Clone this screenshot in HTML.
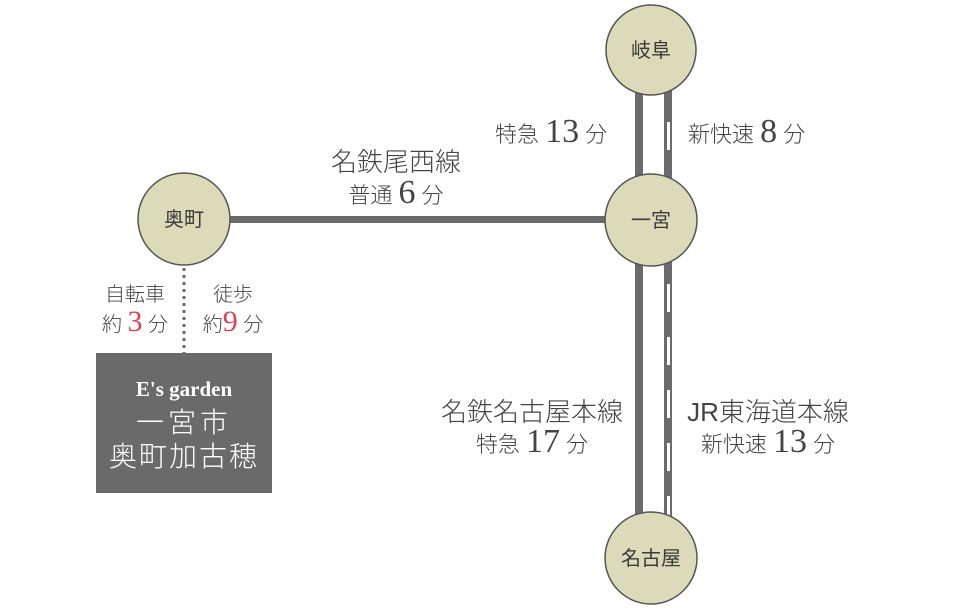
<!DOCTYPE html>
<html><head><meta charset="utf-8"><style>
html,body{margin:0;padding:0;background:#fff;}
svg{display:block}
.j{font-family:"Liberation Sans","Noto Sans CJK JP",sans-serif;fill:#444;font-size:22px;font-weight:300}
.n{font-family:"Liberation Serif","Noto Serif CJK SC",serif;font-size:34px;fill:#444}
.r{fill:#e0404f}
.c{font-family:"Liberation Sans","Noto Sans CJK JP",sans-serif;font-size:20px;fill:#3a3a3a}
.w{fill:#fff}
</style></head><body>
<svg width="954" height="610" viewBox="0 0 954 610" xmlns="http://www.w3.org/2000/svg">
<rect x="635" y="50" width="8" height="510" fill="#6b6b6b"/>
<rect x="664" y="50" width="8" height="510" fill="#6b6b6b"/>
<g fill="#fff">
<rect x="667" y="122" width="3" height="28"/>
<rect x="667" y="284" width="3" height="28"/>
<rect x="667" y="337" width="3" height="28"/>
<rect x="667" y="390" width="3" height="28"/>
<rect x="667" y="443" width="3" height="28"/>
<rect x="667" y="496" width="3" height="28"/>
</g>
<rect x="183" y="216" width="460" height="7" fill="#6b6b6b"/>
<line x1="184" y1="268" x2="184" y2="353" stroke="#6b6b6b" stroke-width="3" stroke-dasharray="3,4"/>
<g fill="#dcdbb9" stroke="#555" stroke-width="1.5">
<circle cx="651" cy="50" r="45"/>
<circle cx="651" cy="220" r="46"/>
<circle cx="651" cy="558" r="46"/>
<circle cx="184" cy="219" r="46"/>
</g>
<text class="c" x="651" y="57" text-anchor="middle">岐阜</text>
<text class="c" x="651" y="227" text-anchor="middle">一宮</text>
<text class="c" x="651" y="565" text-anchor="middle">名古屋</text>
<text class="c" x="184" y="226" text-anchor="middle">奥町</text>
<rect x="96" y="353" width="176" height="140" fill="#6b6a6a"/>
<text x="184" y="396" text-anchor="middle" font-family="Liberation Serif,serif" font-weight="bold" font-size="21" fill="#fff">E's garden</text>
<text x="184" y="432" text-anchor="middle" class="j w" style="font-size:28px;letter-spacing:4px">一宮市</text>
<text x="184" y="466" text-anchor="middle" class="j w" style="font-size:28px;letter-spacing:2px">奥町加古穂</text>
<text x="495" y="142" class="j">特急 <tspan class="n">13</tspan> 分</text>
<text x="688" y="142" class="j">新快速 <tspan class="n">8</tspan> 分</text>
<text x="396" y="171" text-anchor="middle" class="j" style="font-size:26px">名鉄尾西線</text>
<text x="396" y="203" text-anchor="middle" class="j">普通 <tspan class="n">6</tspan> 分</text>
<text x="532" y="421" text-anchor="middle" class="j" style="font-size:26px">名鉄名古屋本線</text>
<text x="532" y="452" text-anchor="middle" class="j">特急 <tspan class="n">17</tspan> 分</text>
<text x="768" y="421" text-anchor="middle" class="j" style="font-size:26px">JR東海道本線</text>
<text x="768" y="452" text-anchor="middle" class="j">新快速 <tspan class="n">13</tspan> 分</text>
<text x="135" y="301" text-anchor="middle" class="j" style="font-size:20px">自転車</text>
<text x="135" y="331" text-anchor="middle" class="j" style="font-size:20px">約 <tspan class="n r" style="font-size:30px">3</tspan> 分</text>
<text x="233" y="301" text-anchor="middle" class="j" style="font-size:20px">徒歩</text>
<text x="233" y="331" text-anchor="middle" class="j" style="font-size:20px">約<tspan class="n r" style="font-size:30px">9</tspan> 分</text>
</svg>
</body></html>
